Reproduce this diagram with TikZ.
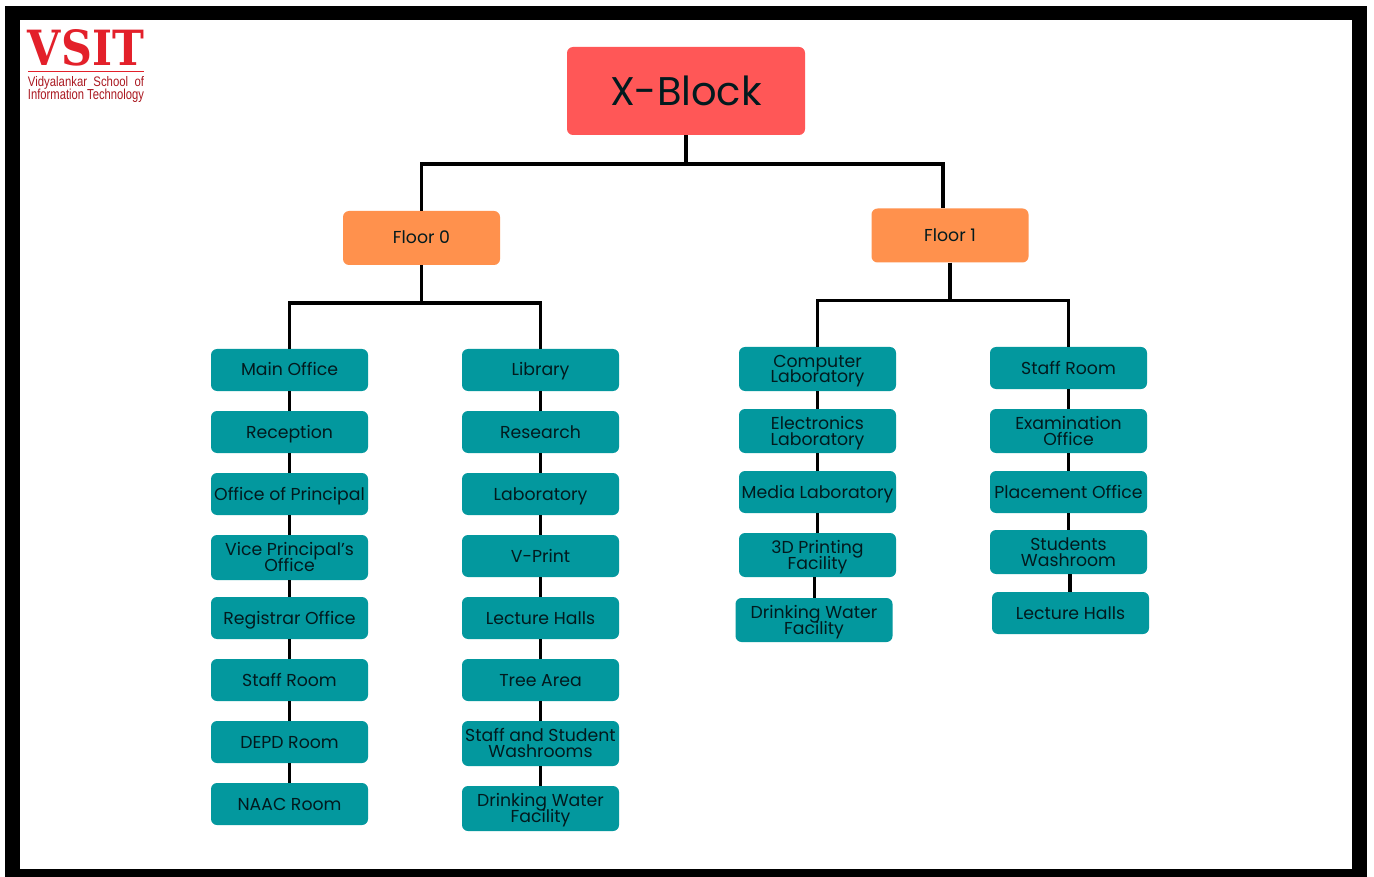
\documentclass[tikz,border=0pt]{standalone}
\usepackage{fontspec}
\usepackage{graphicx}
\setmainfont{Poppins}
\newfontfamily\logofont{DejaVu Serif}
\newfontfamily\logosans{Liberation Sans}
\definecolor{tealbox}{HTML}{03989E}
\definecolor{redbox}{HTML}{FF5757}
\definecolor{orangebox}{HTML}{FF914D}
\definecolor{logored}{HTML}{E3202A}
\definecolor{ink}{HTML}{021A1E}
% one line of box text: fixed height and depth, so every baseline sits alike
\newcommand{\tl}[1]{\vrule height 14pt depth 2pt width 0pt\smash{#1}}
\tikzset{
  x=1pt,y=-1pt,
  room/.style={fill=tealbox,rounded corners=6pt,text=ink,align=center,inner sep=0pt,minimum width=157pt,font=\fontsize{17.3}{16}\selectfont},
  floorbox/.style={fill=orangebox,rounded corners=6pt,text=ink,align=center,inner sep=0pt,minimum width=157pt,minimum height=54pt,font=\fontsize{17.3}{16}\selectfont},
  titlebox/.style={fill=redbox,rounded corners=6pt,text=ink,inner sep=0pt,minimum width=238pt,minimum height=88pt,font=\fontsize{40}{44}\selectfont},
  link/.style={draw=black,line width=3.4pt},
}
\newcommand{\bx}[5]{\node[room,minimum height={(#4)-(#3)}] (#1) at ({#2},{((#3)+(#4))/2}) {#5};}
\begin{document}
\begin{tikzpicture}
\useasboundingbox (0,0) rectangle (1374,877);
\fill[white] (0,0) rectangle (1374,877);
\fill[black] (5,6) rectangle (1367,877);
\fill[white] (20,20) rectangle (1352,869);
% logo
\node[inner sep=0pt,text=logored] (logoA) at (86,48) {\resizebox{116pt}{36pt}{\logofont\bfseries VSIT}};
\draw[logored,line width=1pt] (28,71.5) -- (144,71.5);
\node[inner sep=0pt,text=logored!75!black,anchor=center] (logoB) at (86,83) {\resizebox{116pt}{10pt}{\logosans\fontsize{12}{12}\selectfont Vidyalankar\ \ School\ \ of}};
\node[inner sep=0pt,text=logored!75!black,anchor=center] (logoC) at (86,96) {\resizebox{116pt}{10.5pt}{\logosans\fontsize{12}{12}\selectfont Information Technology}};
% top
\node[titlebox] (top) at (686,91) {X-Block};
\node[floorbox] (f0) at (421.5,238) {\tl{Floor 0}};
\node[floorbox] (f1) at (950,235.5) {\tl{Floor 1}};
% col 1
\bx{a1}{289.5}{349}{391}{\tl{Main Office}}
\bx{a2}{289.5}{411}{453}{\tl{Reception}}
\bx{a3}{289.5}{473}{515}{\tl{Office of Principal}}
\bx{a4}{289.5}{535}{580}{\tl{Vice Principal's}\\\tl{Office}}
\bx{a5}{289.5}{597}{639}{\tl{Registrar Office}}
\bx{a6}{289.5}{659}{701}{\tl{Staff Room}}
\bx{a7}{289.5}{721}{763}{\tl{DEPD Room}}
\bx{a8}{289.5}{783}{825}{\tl{NAAC Room}}
% col 2
\bx{b1}{540.5}{349}{391}{\tl{Library}}
\bx{b2}{540.5}{411}{453}{\tl{Research}}
\bx{b3}{540.5}{473}{515}{\tl{Laboratory}}
\bx{b4}{540.5}{535}{577}{\tl{V-Print}}
\bx{b5}{540.5}{597}{639}{\tl{Lecture Halls}}
\bx{b6}{540.5}{659}{701}{\tl{Tree Area}}
\bx{b7}{540.5}{721}{766}{\tl{Staff and Student}\\\tl{Washrooms}}
\bx{b8}{540.5}{786}{831}{\tl{Drinking Water}\\\tl{Facility}}
% col 3
\bx{c1}{817.5}{347}{391}{\tl{Computer}\\\tl{Laboratory}}
\bx{c2}{817.5}{409}{453}{\tl{Electronics}\\\tl{Laboratory}}
\bx{c3}{817.5}{471}{513}{\tl{Media Laboratory}}
\bx{c4}{817.5}{533}{577}{\tl{3D Printing}\\\tl{Facility}}
\bx{c5}{814}{598}{642}{\tl{Drinking Water}\\\tl{Facility}}
% col 4
\bx{d1}{1068.5}{347}{389}{\tl{Staff Room}}
\bx{d2}{1068.5}{409}{453}{\tl{Examination}\\\tl{Office}}
\bx{d3}{1068.5}{471}{513}{\tl{Placement Office}}
\bx{d4}{1068.5}{530}{574}{\tl{Students}\\\tl{Washroom}}
\bx{d5}{1070.5}{592}{634}{\tl{Lecture Halls}}
% junctions
\coordinate (busT) at (686,164);
\coordinate (busTL) at (421.5,164);
\coordinate (busTR) at (943,164);
\coordinate (dropR) at (943,208);
\coordinate (busL) at (421.5,303);
\coordinate (busR) at (950,300.5);
\coordinate (cdrop) at (814.5,600);
\coordinate (ddrop) at (1070,600);
% connectors
\draw[link] (top.south) -- (busT);
\draw[link] (f0.north) -- (busTL) -- (busTR) -- (dropR);
\draw[link] (f0.south) -- (busL);
\draw[link] (a1.north) |- (busL) -| (b1.north);
\draw[link] (f1.south) -- (busR);
\draw[link] (c1.north) |- (busR) -| (d1.north);
\foreach \p/\q in {a1/a2,a2/a3,a3/a4,a4/a5,a5/a6,a6/a7,a7/a8,b1/b2,b2/b3,b3/b4,b4/b5,b5/b6,b6/b7,b7/b8,c1/c2,c2/c3,d1/d2,d2/d3,d3/d4}
  \draw[link] (\p.south) -- (\q.north);
\draw[link] (c3.south) -- (c4.north);
\draw[link] (cdrop |- c4.south) -- (cdrop |- c5.north);
\draw[link] (ddrop |- d4.south) -- (ddrop |- d5.north);
\end{tikzpicture}
\end{document}
